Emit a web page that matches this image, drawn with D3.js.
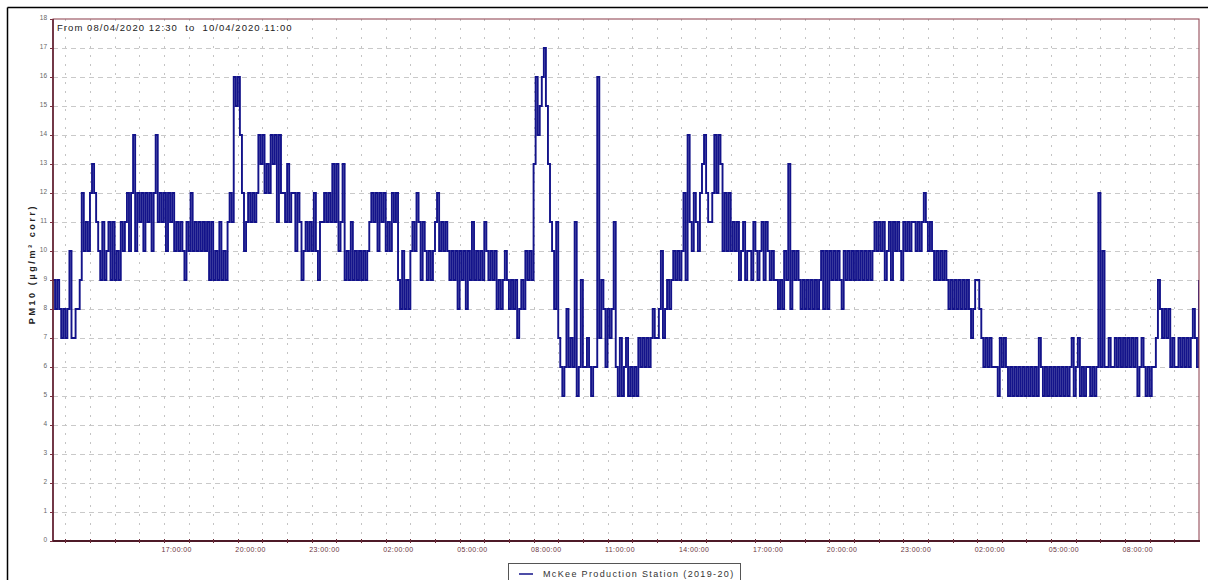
<!DOCTYPE html>
<html><head><meta charset="utf-8">
<script src="https://cdn.jsdelivr.net/npm/d3@7"></script>
<style>
body{margin:0;background:#fff;}
svg{display:block;font-family:"Liberation Sans",Arial,sans-serif;}
</style>
</head><body>
<svg id="c" width="1208" height="580"></svg>
<script>
// PM10 readings, 5-minute samples from 08/04/2020 12:30 to 10/04/2020 11:00
const pm10 = [
9,8,9,8,7,8,7,8,10,7,7,8,8,9,12,10,11,10,12,13,12,11,
10,9,11,9,10,11,9,11,9,10,9,11,
10,11,12,10,12,14,
10,12,11,12,10,12,11,12,10,12,
14,
11,12,11,12,10,12,11,12,
10,11,10,11,10,9,11,10,
12,
10,11,10,11,10,11,10,11,
9,11,9,10,9,11,9,10,9,11,
12,11,16,15,16,14,12,10,11,
12,11,12,11,12,
14,13,14,12,13,12,
14,13,14,11,14,12,
12,11,13,11,12,
12,10,12,11,9,10,11,10,11,10,
12,10,9,11,
11,12,11,12,11,13,
11,13,10,
11,13,9,10,9,11,9,
10,9,10,9,10,9,10,
11,12,11,12,
10,12,11,12,10,11,10,12,11,12,
9,
8,10,8,9,8,10,
11,10,12,11,9,11,
10,9,10,9,10,
11,12,10,11,
10,11,10,9,
10,9,10,8,
10,9,10,8,10,9,
11,
9,10,9,10,9,
11,
10,9,10,9,10,
8,9,8,9,
10,
9,8,9,
8,9,7,8,
9,8,
10,9,10,9,
13,16,14,15,16,17,15,13,11,10,
8,11,7,6,5,6,8,6,7,
6,11,5,6,9,6,
6,7,6,5,6,6,
16,
7,9,8,6,8,
7,8,
11,
6,5,7,5,6,7,5,6,5,6,5,7,
6,7,
6,7,6,7,
8,
7,7,8,
10,7,
8,9,8,9,
10,9,10,9,
10,12,9,14,
11,10,12,11,10,
12,13,14,12,
11,11,
12,14,12,14,13,
10,12,10,12,10,11,
10,11,
9,10,11,9,10,
10,9,11,10,9,10,11,9,
11,
10,9,10,9,9,
8,9,8,
10,9,13,8,10,9,10,
9,8,
9,8,9,8,9,8,9,8,9,
10,8,10,8,10,9,10,9,10,9,8,
10,9,10,9,10,9,10,9,10,9,10,9,10,9,10,
11,10,11,10,
11,
9,10,11,9,11,10,
11,10,9,
11,10,11,10,11,11,10,11,10,11,12,11,10,11,10,
9,10,9,10,9,10,9,
8,9,8,9,8,9,8,9,8,9,
8,7,8,9,9,8,7,6,7,6,7,
6,6,6,5,7,6,
7,6,
5,6,5,6,5,6,5,6,5,6,5,6,5,6,5,
7,
6,5,
6,5,6,5,6,5,6,5,6,5,6,5,6,
7,
5,6,
7,
5,6,5,6,6,5,6,5,6,
12,6,10,
6,6,7,6,6,7,6,
7,6,7,6,7,6,7,
6,7,5,6,7,6,
5,6,5,6,
6,7,
9,8,
7,8,7,8,
6,7,6,6,7,6,
7,6,7,6,7,
8,7,6,9
];
const startLabel = "2020-04-08T12:30";
const endLabel = "2020-04-10T11:00";
const yTickLabels = [0,1,2,3,4,5,6,7,8,9,10,11,12,13,14,15,16,17,18];
const xTickLabels = ["2020-04-08T17:00","2020-04-08T20:00","2020-04-08T23:00","2020-04-09T02:00",
  "2020-04-09T05:00","2020-04-09T08:00","2020-04-09T11:00","2020-04-09T14:00","2020-04-09T17:00",
  "2020-04-09T20:00","2020-04-09T23:00","2020-04-10T02:00","2020-04-10T05:00","2020-04-10T08:00"];
const titleText = "From 08/04/2020 12:30  to  10/04/2020 11:00";
const yTitle = "PM10 (µg/m³ corr)";
const seriesName = "McKee Production Station (2019-20)";

const parse = d3.timeParse("%Y-%m-%dT%H:%M");
const t0 = parse(startLabel), t1 = parse(endLabel);
const data = pm10.map((v,i)=>({t:d3.timeMinute.offset(t0, i*5), v}));

const L=53, R=1199, T=19, B=541;
const x = d3.scaleTime().domain([t0,t1]).range([L,R]);
const y = d3.scaleLinear().domain([0,18]).range([B,T]);

const svg = d3.select("#c");
svg.append("rect").attr("width",1208).attr("height",580).attr("fill","#fff");

// outer border (top and left)
svg.append("line").attr("x1",7.5).attr("x2",1208).attr("y1",7.5).attr("y2",7.5).attr("stroke","#000").attr("stroke-width",1.5);
svg.append("line").attr("x1",7.5).attr("x2",7.5).attr("y1",7.5).attr("y2",580).attr("stroke","#000").attr("stroke-width",1.5);

// grid
const grid = svg.append("g");
grid.selectAll(".hg").data(yTickLabels.slice(1,-1)).enter().append("line")
  .attr("x1",L).attr("x2",R).attr("y1",d=>y(d)+0.5).attr("y2",d=>y(d)+0.5)
  .attr("stroke","#c9c9c9").attr("stroke-width",1).attr("stroke-dasharray","5,4");
const hours = d3.timeHour.range(d3.timeHour.ceil(t0), t1);
grid.selectAll(".vg").data(hours).enter().append("line")
  .attr("x1",d=>Math.round(x(d))+0.5).attr("x2",d=>Math.round(x(d))+0.5).attr("y1",T).attr("y2",B)
  .attr("stroke","#c4c4c4").attr("stroke-width",1).attr("stroke-dasharray","2,7");

// data
svg.append("clipPath").attr("id","pc").append("rect").attr("x",L).attr("y",T).attr("width",R-L).attr("height",B-T);
const line = d3.line().x(d=>x(d.t)).y(d=>y(d.v)).curve(d3.curveStepAfter);
svg.append("path").datum(data).attr("clip-path","url(#pc)").attr("d",line)
  .attr("fill","none").attr("stroke","#13138a").attr("stroke-width",1.9).attr("stroke-linejoin","miter");

// frame
svg.append("rect").attr("x",L).attr("y",T).attr("width",R-L).attr("height",B-T)
  .attr("fill","none").attr("stroke","#8a3a48").attr("stroke-width",1);
svg.append("line").attr("x1",L).attr("x2",L).attr("y1",T).attr("y2",B+1).attr("stroke","#5e2030").attr("stroke-width",1.6);
svg.append("line").attr("x1",L).attr("x2",R+1).attr("y1",B).attr("y2",B).attr("stroke","#4e1a28").attr("stroke-width",1.8);

// y axis
const yAxis = d3.axisLeft(y).tickValues(yTickLabels).tickSize(3).tickPadding(3).tickFormat(d3.format("d"));
const gy = svg.append("g").attr("transform",`translate(${L},0)`).call(yAxis);
gy.select(".domain").remove();
gy.selectAll(".tick line").attr("stroke","#7a3040");
gy.selectAll(".tick text").attr("font-size","6.5px").attr("fill","#666").attr("font-family","Liberation Sans, Arial, sans-serif").attr("dy","0.1em");

// x axis
const xAxis = d3.axisBottom(x).tickValues(xTickLabels.map(parse)).tickSize(0).tickPadding(6).tickFormat(d3.timeFormat("%H:%M:%S"));
const gx = svg.append("g").attr("transform",`translate(0,${B})`).call(xAxis);
gx.select(".domain").remove();
gx.selectAll(".tick text").attr("font-size","7px").attr("fill","#6b3440").attr("text-anchor","start")
  .attr("x",-3).attr("letter-spacing","0.4px").attr("font-family","Liberation Sans, Arial, sans-serif");
// small hour ticks on bottom axis
svg.append("g").selectAll("line").data(hours).enter().append("line")
  .attr("x1",d=>Math.round(x(d))+0.5).attr("x2",d=>Math.round(x(d))+0.5).attr("y1",B-2).attr("y2",B+2)
  .attr("stroke","#6b2a38").attr("stroke-width",1);

// y title
svg.append("text").attr("transform","translate(35,264) rotate(-90)").attr("text-anchor","middle")
  .attr("font-size","9px").attr("font-weight","bold").attr("letter-spacing","2.6px").attr("fill","#222").text(yTitle);

// chart title
svg.append("text").attr("x",57).attr("y",31).attr("font-size","9.5px").attr("letter-spacing","1.05px")
  .attr("fill","#222").style("white-space","pre").text(titleText);

// legend
const lg = svg.append("g");
lg.append("rect").attr("x",508.5).attr("y",563.5).attr("width",232).attr("height",30).attr("fill","#fff").attr("stroke","#555").attr("stroke-width",1);
lg.append("line").attr("x1",519).attr("x2",533).attr("y1",574).attr("y2",574).attr("stroke","#13138a").attr("stroke-width",1.5);
lg.append("text").attr("x",543).attr("y",577).attr("font-size","9px").attr("letter-spacing","1.35px").attr("fill","#333").text(seriesName);
</script>
</body></html>
